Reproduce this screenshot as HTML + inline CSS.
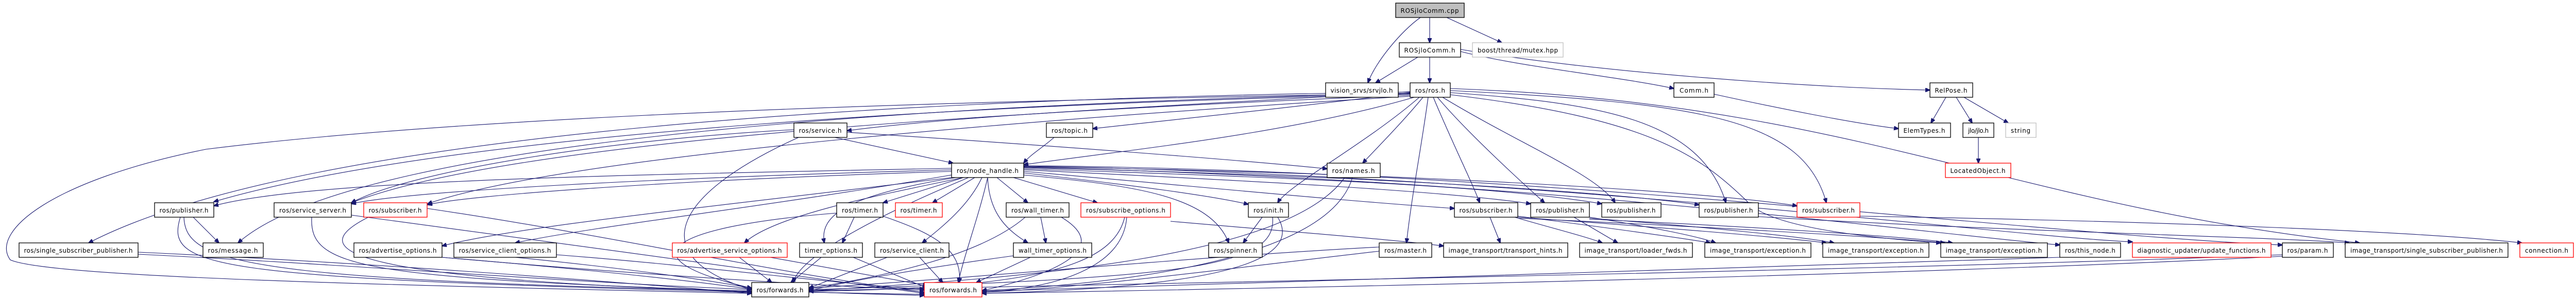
<!DOCTYPE html>
<html><head><meta charset="utf-8"><style>
html,body{margin:0;padding:0;background:#fff;}
svg{display:block;}
text{font-family:"DejaVu Sans","Liberation Sans",sans-serif;font-size:12px;fill:#000;text-anchor:middle;}
.n{fill:#fff;stroke:#000;stroke-width:1.3;}
.r{fill:#fff;stroke:#ff0000;stroke-width:1.3;}
.g{fill:#fff;stroke:#bfbfbf;stroke-width:1.3;}
.e path{fill:none;stroke:#191970;stroke-width:1.1;}
</style></head><body>
<svg width="5008" height="581" viewBox="0 0 5008 581" xmlns="http://www.w3.org/2000/svg">
<defs><marker id="a" markerWidth="10" markerHeight="8" refX="9" refY="4" orient="auto" markerUnits="userSpaceOnUse"><path d="M0,0 L10,4 L0,8 z" fill="#191970" stroke="#191970"/></marker></defs>
<g class="e" marker-end="url(#a)">
<path marker-end="url(#a)" d="M2775 34 L2775 83"/>
<path marker-end="url(#a)" d="M2757 34 C2720 60 2670 120 2655 161"/>
<path marker-end="url(#a)" d="M2808 34 L2915 83"/>
<path marker-end="url(#a)" d="M2752 111 L2670 161"/>
<path marker-end="url(#a)" d="M2775 111 L2775 161"/>
<path marker-end="url(#a)" d="M2835 100 C2950 130 3150 150 3249 172"/>
<path marker-end="url(#a)" d="M2835 96 C3100 140 3500 170 3746 175"/>
<path marker-end="url(#a)" d="M3777 189 L3748 239"/>
<path marker-end="url(#a)" d="M3797 189 L3828 239"/>
<path marker-end="url(#a)" d="M3812 189 L3898 239"/>
<path marker-end="url(#a)" d="M3327 183 C3450 210 3600 240 3685 250"/>
<path marker-end="url(#a)" d="M3840 267 L3840 317"/>
<path marker-end="url(#a)" d="M2737 180 C2500 210 2300 230 2121 250"/>
<path marker-end="url(#a)" d="M2737 178 C2400 200 1900 220 1644 254"/>
<path marker-end="url(#a)" d="M2745 189 C2500 260 2200 290 1987 320"/>
<path marker-end="url(#a)" d="M2762 189 C2720 240 2670 290 2645 317"/>
<path marker-end="url(#a)" d="M2755 189 C2650 280 2500 360 2480 394"/>
<path marker-end="url(#a)" d="M2772 189 C2760 280 2740 380 2730 472"/>
<path marker-end="url(#a)" d="M2782 189 C2820 280 2860 360 2872 394"/>
<path marker-end="url(#a)" d="M2790 189 C2850 260 2960 360 2998 394"/>
<path marker-end="url(#a)" d="M2800 189 C2950 280 3100 340 3135 394"/>
<path marker-end="url(#a)" d="M2815 180 C3100 200 3300 230 3350 394"/>
<path marker-end="url(#a)" d="M2815 176 C3300 200 3500 230 3545 394"/>
<path marker-end="url(#a)" d="M2815 172 C3600 200 3900 400 4580 472"/>
<path marker-end="url(#a)" d="M2815 184 C3200 230 3300 300 3400 400 C3450 440 3600 460 3767 472"/>
<path marker-end="url(#a)" d="M2737 183 C2000 200 900 250 415 392"/>
<path marker-end="url(#a)" d="M2737 185 C2000 215 1000 270 682 394"/>
<path marker-end="url(#a)" d="M2737 187 C2100 225 1100 300 830 396"/>
<path marker-end="url(#a)" d="M2737 181 C1900 200 700 260 462 472"/>
<path marker-end="url(#a)" d="M2737 179 C1800 190 600 250 172 472"/>
<path marker-end="url(#a)" d="M2737 182 C1500 200 800 240 400 290 C100 350 -20 450 20 505 C100 540 800 555 1459 570"/>
<path marker-end="url(#a)" d="M1620 267 L1850 317"/>
<path marker-end="url(#a)" d="M1644 257 C2000 280 2400 310 2576 328"/>
<path marker-end="url(#a)" d="M1550 267 C1300 380 1250 500 1459 563"/>
<path marker-end="url(#a)" d="M1541 252 C1200 270 800 330 682 394"/>
<path marker-end="url(#a)" d="M2046 267 C2020 290 2000 300 1987 317"/>
<path marker-end="url(#a)" d="M1847 327 C1200 340 600 350 415 400"/>
<path marker-end="url(#a)" d="M1847 330 C1300 345 800 370 682 396"/>
<path marker-end="url(#a)" d="M1847 333 C1300 350 900 380 830 398"/>
<path marker-end="url(#a)" d="M1847 345 C1400 400 1000 440 858 478"/>
<path marker-end="url(#a)" d="M1847 340 C1500 400 1150 440 1000 472"/>
<path marker-end="url(#a)" d="M1870 345 C1700 380 1500 420 1445 472"/>
<path marker-end="url(#a)" d="M1870 345 L1714 394"/>
<path marker-end="url(#a)" d="M1892 345 L1810 394"/>
<path marker-end="url(#a)" d="M1935 345 L1995 394"/>
<path marker-end="url(#a)" d="M1967 345 L2130 394"/>
<path marker-end="url(#a)" d="M1906 345 C1880 400 1830 440 1790 472"/>
<path marker-end="url(#a)" d="M1855 345 C1640 380 1590 420 1600 472"/>
<path marker-end="url(#a)" d="M1917 345 C1920 420 1960 450 1995 472"/>
<path marker-end="url(#a)" d="M1987 336 C2200 360 2350 380 2423 397"/>
<path marker-end="url(#a)" d="M1987 340 C2200 360 2350 380 2385 472"/>
<path marker-end="url(#a)" d="M1987 333 C2300 360 2600 390 2823 405"/>
<path marker-end="url(#a)" d="M1987 330 C2400 350 2800 370 2971 396"/>
<path marker-end="url(#a)" d="M1987 328 C2500 345 2900 360 3109 396"/>
<path marker-end="url(#a)" d="M1987 326 C2600 340 3100 370 3298 398"/>
<path marker-end="url(#a)" d="M1987 324 C2700 335 3300 370 3488 400"/>
<path marker-end="url(#a)" d="M1987 322 C3000 330 4000 460 4430 476"/>
<path marker-end="url(#a)" d="M1987 323 C3000 340 3900 460 4139 470"/>
<path marker-end="url(#a)" d="M1987 325 C3000 350 3700 450 3998 476"/>
<path marker-end="url(#a)" d="M1880 345 C1700 420 1550 500 1540 549"/>
<path marker-end="url(#a)" d="M1917 345 C1900 420 1870 500 1860 549"/>
<path marker-end="url(#a)" d="M2610 345 C2500 500 2000 540 1570 565"/>
<path marker-end="url(#a)" d="M2625 345 C2580 500 2200 550 1906 565"/>
<path marker-end="url(#a)" d="M1658 422 L1635 472"/>
<path marker-end="url(#a)" d="M1624 414 C1300 440 1200 500 1459 560"/>
<path marker-end="url(#a)" d="M1714 420 C1800 450 1870 480 1862 549"/>
<path marker-end="url(#a)" d="M2020 422 L2030 472"/>
<path marker-end="url(#a)" d="M1990 422 C1900 500 1700 540 1570 560"/>
<path marker-end="url(#a)" d="M2060 422 C2140 470 2100 520 1906 565"/>
<path marker-end="url(#a)" d="M2183 422 C2160 520 2000 560 1570 566"/>
<path marker-end="url(#a)" d="M2187 422 C2180 520 2050 560 1906 568"/>
<path marker-end="url(#a)" d="M2272 430 C2500 450 2700 465 2802 478"/>
<path marker-end="url(#a)" d="M2450 422 L2413 472"/>
<path marker-end="url(#a)" d="M2470 422 C2480 520 2300 540 1570 563"/>
<path marker-end="url(#a)" d="M2480 422 C2540 520 2300 560 1906 570"/>
<path marker-end="url(#a)" d="M2677 480 C2300 500 1900 540 1570 560"/>
<path marker-end="url(#a)" d="M2677 488 C2400 520 2100 560 1906 568"/>
<path marker-end="url(#a)" d="M2892 422 L2912 472"/>
<path marker-end="url(#a)" d="M2940 422 C3000 440 3080 460 3110 472"/>
<path marker-end="url(#a)" d="M2946 420 C3100 440 3250 460 3320 472"/>
<path marker-end="url(#a)" d="M2946 422 C3200 440 3450 460 3545 472"/>
<path marker-end="url(#a)" d="M2946 424 C3300 440 3650 460 3775 472"/>
<path marker-end="url(#a)" d="M3055 422 L3140 472"/>
<path marker-end="url(#a)" d="M3085 422 C3200 440 3300 460 3330 472"/>
<path marker-end="url(#a)" d="M3085 424 C3300 440 3500 460 3560 472"/>
<path marker-end="url(#a)" d="M3085 426 C3400 440 3700 460 3790 472"/>
<path marker-end="url(#a)" d="M3413 421 C3900 450 4400 460 4560 472"/>
<path marker-end="url(#a)" d="M3610 420 C4200 430 4700 450 4895 472"/>
<path marker-end="url(#a)" d="M375 422 L425 472"/>
<path marker-end="url(#a)" d="M350 422 C320 520 400 540 1459 568"/>
<path marker-end="url(#a)" d="M357 422 C360 520 500 550 1794 572"/>
<path marker-end="url(#a)" d="M605 422 C600 520 700 540 1459 566"/>
<path marker-end="url(#a)" d="M682 418 C1000 460 1500 530 1794 570"/>
<path marker-end="url(#a)" d="M715 422 C600 480 620 540 1459 567"/>
<path marker-end="url(#a)" d="M829 405 C1200 460 1500 530 1794 568"/>
<path marker-end="url(#a)" d="M268 490 C700 510 1100 540 1459 570"/>
<path marker-end="url(#a)" d="M268 494 C800 520 1200 560 1794 574"/>
<path marker-end="url(#a)" d="M858 500 C1100 520 1300 540 1459 562"/>
<path marker-end="url(#a)" d="M858 500 C1200 530 1500 550 1794 564"/>
<path marker-end="url(#a)" d="M1000 500 C1200 520 1350 540 1459 560"/>
<path marker-end="url(#a)" d="M1080 495 C1400 520 1600 550 1794 562"/>
<path marker-end="url(#a)" d="M1435 500 L1498 549"/>
<path marker-end="url(#a)" d="M1495 500 L1800 555"/>
<path marker-end="url(#a)" d="M1594 500 L1535 549"/>
<path marker-end="url(#a)" d="M1656 500 L1800 560"/>
<path marker-end="url(#a)" d="M1722 500 L1570 560"/>
<path marker-end="url(#a)" d="M1785 500 L1830 549"/>
<path marker-end="url(#a)" d="M1967 497 C1800 520 1650 545 1570 565"/>
<path marker-end="url(#a)" d="M2000 500 L1895 549"/>
<path marker-end="url(#a)" d="M4430 495 C3800 520 2800 540 1570 565"/>
<path marker-end="url(#a)" d="M4430 498 C3800 530 2800 555 1906 570"/>
<path marker-end="url(#a)" d="M3998 500 C3500 520 2500 545 1906 566"/>
</g>
<g>
<rect x="2709" y="6" width="133" height="28" fill="#bfbfbf" stroke="#000" stroke-width="1.3"/><text x="2775" y="25" textLength="113">ROSjloComm.cpp</text>
<rect class="n" x="2716" y="83" width="119" height="28"/><text x="2775" y="102" textLength="99">ROSjloComm.h</text>
<rect class="g" x="2858" y="83" width="176" height="28"/><text x="2946" y="102" textLength="156">boost/thread/mutex.hpp</text>
<rect class="n" x="2573" y="161" width="141" height="28"/><text x="2643" y="180" textLength="121">vision_srvs/srvjlo.h</text>
<rect class="n" x="2737" y="161" width="78" height="28"/><text x="2776" y="180" textLength="58">ros/ros.h</text>
<rect class="n" x="3249" y="161" width="78" height="28"/><text x="3288" y="180" textLength="56">Comm.h</text>
<rect class="n" x="3746" y="161" width="83" height="28"/><text x="3787" y="180" textLength="63">RelPose.h</text>
<rect class="n" x="2031" y="239" width="90" height="28"/><text x="2076" y="258" textLength="70">ros/topic.h</text>
<rect class="n" x="1541" y="239" width="103" height="28"/><text x="1592" y="258" textLength="83">ros/service.h</text>
<rect class="n" x="3685" y="239" width="101" height="28"/><text x="3735" y="258" textLength="81">ElemTypes.h</text>
<rect class="n" x="3810" y="239" width="60" height="28"/><text x="3840" y="258" textLength="40">jlo/jlo.h</text>
<rect class="g" x="3893" y="239" width="59" height="28"/><text x="3922" y="258" textLength="38">string</text>
<rect class="n" x="1847" y="317" width="140" height="28"/><text x="1917" y="336" textLength="120">ros/node_handle.h</text>
<rect class="n" x="2576" y="317" width="103" height="28"/><text x="2627" y="336" textLength="83">ros/names.h</text>
<rect class="r" x="3776" y="317" width="127" height="28"/><text x="3839" y="336" textLength="107">LocatedObject.h</text>
<rect class="n" x="300" y="394" width="115" height="28"/><text x="357" y="413" textLength="95">ros/publisher.h</text>
<rect class="n" x="532" y="394" width="150" height="28"/><text x="607" y="413" textLength="130">ros/service_server.h</text>
<rect class="r" x="706" y="394" width="123" height="28"/><text x="767" y="413" textLength="103">ros/subscriber.h</text>
<rect class="n" x="1624" y="394" width="90" height="28"/><text x="1669" y="413" textLength="70">ros/timer.h</text>
<rect class="r" x="1738" y="394" width="91" height="28"/><text x="1783" y="413" textLength="71">ros/timer.h</text>
<rect class="n" x="1953" y="394" width="122" height="28"/><text x="2014" y="413" textLength="102">ros/wall_timer.h</text>
<rect class="r" x="2098" y="394" width="174" height="28"/><text x="2185" y="413" textLength="154">ros/subscribe_options.h</text>
<rect class="n" x="2423" y="394" width="78" height="28"/><text x="2462" y="413" textLength="58">ros/init.h</text>
<rect class="n" x="2823" y="394" width="123" height="28"/><text x="2884" y="413" textLength="103">ros/subscriber.h</text>
<rect class="n" x="2971" y="394" width="114" height="28"/><text x="3028" y="413" textLength="94">ros/publisher.h</text>
<rect class="n" x="3109" y="394" width="115" height="28"/><text x="3166" y="413" textLength="95">ros/publisher.h</text>
<rect class="n" x="3298" y="394" width="115" height="28"/><text x="3355" y="413" textLength="95">ros/publisher.h</text>
<rect class="r" x="3488" y="394" width="122" height="28"/><text x="3549" y="413" textLength="102">ros/subscriber.h</text>
<rect class="n" x="37" y="472" width="231" height="28"/><text x="152" y="491" textLength="211">ros/single_subscriber_publisher.h</text>
<rect class="n" x="394" y="472" width="117" height="28"/><text x="452" y="491" textLength="97">ros/message.h</text>
<rect class="n" x="687" y="472" width="171" height="28"/><text x="772" y="491" textLength="151">ros/advertise_options.h</text>
<rect class="n" x="881" y="472" width="199" height="28"/><text x="980" y="491" textLength="179">ros/service_client_options.h</text>
<rect class="r" x="1305" y="472" width="223" height="28"/><text x="1416" y="491" textLength="203">ros/advertise_service_options.h</text>
<rect class="n" x="1552" y="472" width="122" height="28"/><text x="1613" y="491" textLength="102">timer_options.h</text>
<rect class="n" x="1698" y="472" width="144" height="28"/><text x="1770" y="491" textLength="124">ros/service_client.h</text>
<rect class="n" x="1967" y="472" width="152" height="28"/><text x="2043" y="491" textLength="132">wall_timer_options.h</text>
<rect class="n" x="2346" y="472" width="104" height="28"/><text x="2398" y="491" textLength="84">ros/spinner.h</text>
<rect class="n" x="2677" y="472" width="102" height="28"/><text x="2728" y="491" textLength="82">ros/master.h</text>
<rect class="n" x="2802" y="472" width="241" height="28"/><text x="2922" y="491" textLength="221">image_transport/transport_hints.h</text>
<rect class="n" x="3066" y="472" width="219" height="28"/><text x="3175" y="491" textLength="199">image_transport/loader_fwds.h</text>
<rect class="n" x="3309" y="472" width="206" height="28"/><text x="3412" y="491" textLength="186">image_transport/exception.h</text>
<rect class="n" x="3538" y="472" width="206" height="28"/><text x="3641" y="491" textLength="186">image_transport/exception.h</text>
<rect class="n" x="3767" y="472" width="207" height="28"/><text x="3870" y="491" textLength="187">image_transport/exception.h</text>
<rect class="n" x="3998" y="472" width="118" height="28"/><text x="4057" y="491" textLength="98">ros/this_node.h</text>
<rect class="r" x="4139" y="472" width="269" height="28"/><text x="4273" y="491" textLength="249">diagnostic_updater/update_functions.h</text>
<rect class="n" x="4430" y="472" width="99" height="28"/><text x="4479" y="491" textLength="79">ros/param.h</text>
<rect class="n" x="4552" y="472" width="316" height="28"/><text x="4710" y="491" textLength="296">image_transport/single_subscriber_publisher.h</text>
<rect class="r" x="4891" y="472" width="104" height="28"/><text x="4943" y="491" textLength="84">connection.h</text>
<rect class="n" x="1459" y="549" width="111" height="28"/><text x="1514" y="568" textLength="91">ros/forwards.h</text>
<rect class="r" x="1794" y="549" width="112" height="28"/><text x="1850" y="568" textLength="92">ros/forwards.h</text>
</g>
</svg>
</body></html>
